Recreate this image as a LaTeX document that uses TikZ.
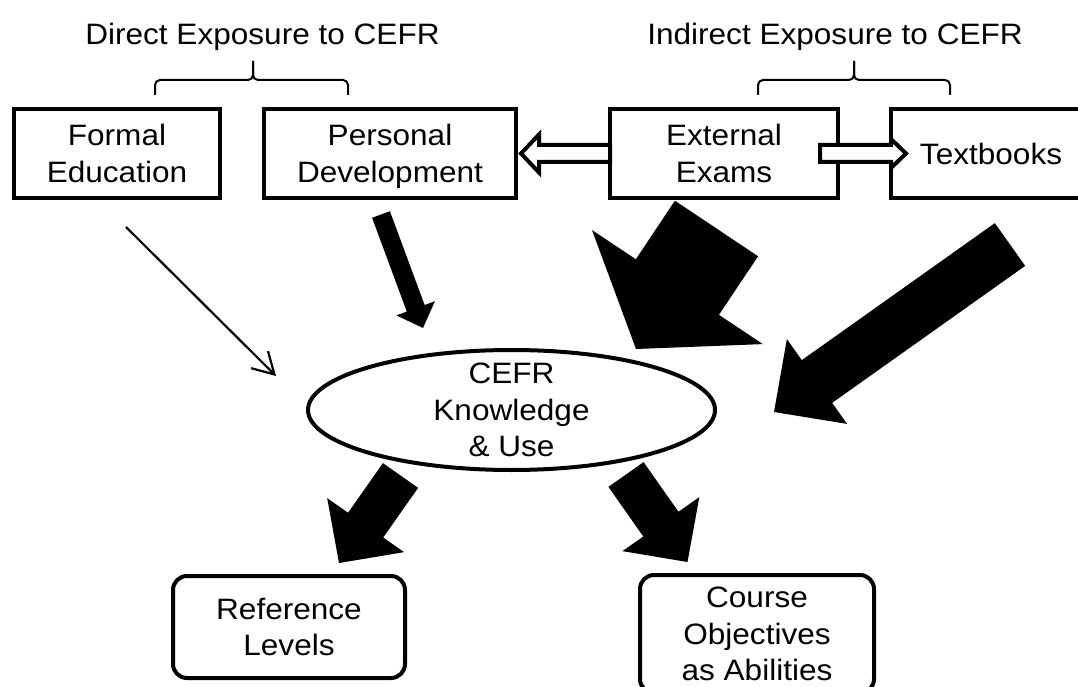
\documentclass[tikz,border=0pt]{standalone}
\usepackage{fontspec}
\setmainfont{Liberation Sans}[FakeStretch=1.07]
\usetikzlibrary{calc,shapes.geometric,arrows.meta}

% Solid block arrow: #1 back centre, #2 tip, #3 half shaft width,
% #4 half head width, #5 head length
\newcommand{\fatarrow}[5]{%
  \coordinate (fa-h) at ($(#2)!#5!(#1)$);
  \fill[black] ($(#1)!#3!90:(#2)$) -- ($(fa-h)!#3!90:(#2)$) -- ($(fa-h)!#4!90:(#2)$) -- (#2)
    -- ($(fa-h)!#4!-90:(#2)$) -- ($(fa-h)!#3!-90:(#2)$) -- ($(#1)!#3!-90:(#2)$) -- cycle;
}

\begin{document}
\begin{tikzpicture}[x=1pt,y=-1pt,
  every node/.style={font=\fontsize{29.5}{36.5}\selectfont, inner sep=0pt, outer sep=0pt},
  topbox/.style={draw, line width=4pt, minimum height=89pt, align=center},
  roundbox/.style={draw, line width=4pt, rounded corners=14pt, align=center},
  hollow/.style={draw, fill=white, line width=4pt, line join=miter},
  bracket/.style={line width=2pt, rounded corners=5pt},
  lightarrow/.style={line width=2.2pt, -{Straight Barb[length=21pt,width=24pt]}}]

\useasboundingbox (0,0) rectangle (1078,687);
\fill[white] (0,0) rectangle (1078,687);
\clip (0,0) rectangle (1078,687);

% headings and their brackets
\node[anchor=base] (hdirect) at (262.5,44.5) {Direct Exposure to CEFR};
\node[anchor=base] (hindirect) at (835,44.5) {Indirect Exposure to CEFR};
\draw[bracket] (155,95) -- (155,80) -- (253,80) -- (253,61);
\draw[bracket] (348,95) -- (348,80) -- (253,80) -- (253,61);
\draw[bracket] (758,95) -- (758,80) -- (854,80) -- (854,61);
\draw[bracket] (950,95) -- (950,80) -- (854,80) -- (854,61);

% source boxes
\node[topbox, minimum width=206pt] (fe) at (117,153.5) {Formal\\Education};
\node[topbox, minimum width=252pt, text depth=0pt] (pd) at (390,153.5) {Personal\\Development};
\node[topbox, minimum width=228pt] (ee) at (724,153.5) {External\\Exams};
\node[topbox, minimum width=200pt] (tb) at (991,153.5) {Textbooks};

% hollow arrows between the source boxes
\draw[hollow] ($(pd.east)+(5,0)$) -- ($(pd.east)+(23,-19)$) -- ($(pd.east)+(23,-8.5)$)
  -- ($(ee.west)+(0,-8.5)$) -- ($(ee.west)+(0,8.5)$) -- ($(pd.east)+(23,8.5)$)
  -- ($(pd.east)+(23,19)$) -- cycle;
\draw[hollow] ($(ee.east)+(-18,-8.5)$) -- ($(tb.west)+(0,-8.5)$) -- ($(tb.west)+(0,-14.5)$)
  -- ($(tb.west)+(15,0)$) -- ($(tb.west)+(0,14.5)$) -- ($(tb.west)+(0,8.5)$)
  -- ($(ee.east)+(-18,8.5)$) -- cycle;

% central ellipse
\node[ellipse, draw, line width=4pt, minimum width=407pt, minimum height=120pt] (cefr) at (511.5,410) {};
\node[align=center] (cefrtext) at (cefr.center) {CEFR\\Knowledge\\\& Use};

% outcome boxes
\node[roundbox, minimum width=232pt, minimum height=102pt] (rl) at (289,627) {Reference\\Levels};
\node[roundbox, minimum width=234pt, minimum height=118pt] (co) at (757,634) {Course\\Objectives\\as Abilities};

% arrow end points
\coordinate (fe-out) at (126,227);   \coordinate (fe-in) at (276,376);
\coordinate (pd-out) at (381,214.5); \coordinate (pd-in) at (423,328);
\coordinate (ee-out) at (716.5,228.5); \coordinate (ee-in) at (636,349);
\coordinate (tb-out) at (1010,244.5); \coordinate (tb-in) at (774,412);
\coordinate (rl-out) at (400.5,475.5); \coordinate (rl-in) at (339,563);
\coordinate (co-out) at (626,474.5); \coordinate (co-in) at (687.5,562);

% influences on CEFR knowledge
\draw[lightarrow] (fe-out) -- (fe-in);
\fatarrow{pd-out}{pd-in}{9.5pt}{20.5pt}{21pt}
\fatarrow{ee-out}{ee-in}{50pt}{102.7pt}{74.5pt}
\fatarrow{tb-out}{tb-in}{26.2pt}{52pt}{52.7pt}

% outcomes
\fatarrow{rl-out}{rl-in}{21.5pt}{47pt}{46.3pt}
\fatarrow{co-out}{co-in}{21.5pt}{47pt}{46.3pt}
\end{tikzpicture}
\end{document}
